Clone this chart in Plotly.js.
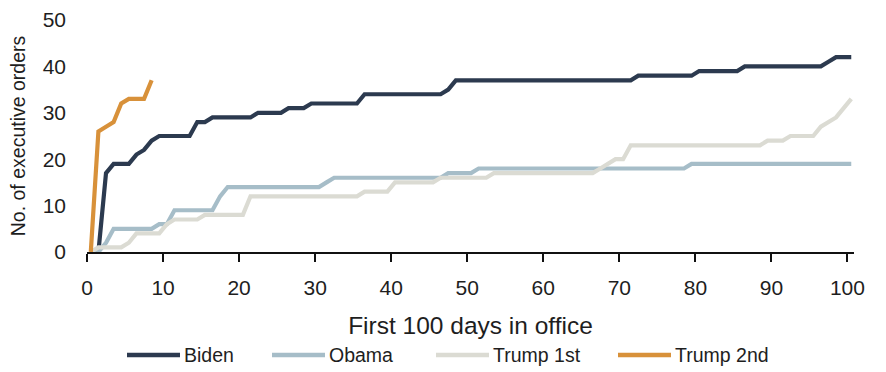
<!DOCTYPE html>
<html>
<head>
<meta charset="utf-8">
<script src="https://cdn.plot.ly/plotly-3.0.1.min.js"></script>
<style>
  html, body { margin: 0; padding: 0; background: #ffffff; }
  #chart { width: 886px; height: 372px; }
</style>
</head>
<body>
<div id="chart"></div>
<script>
// Cumulative executive orders signed, one value per day of the first 100 days.
const DAYS = Array.from({ length: 101 }, (_, i) => i);

const BIDEN = [
  0, 0, 17, 19, 19, 19, 21, 22, 24, 25,
  25, 25, 25, 25, 28, 28, 29, 29, 29, 29,
  29, 29, 30, 30, 30, 30, 31, 31, 31, 32,
  32, 32, 32, 32, 32, 32, 34, 34, 34, 34,
  34, 34, 34, 34, 34, 34, 34, 35, 37, 37,
  37, 37, 37, 37, 37, 37, 37, 37, 37, 37,
  37, 37, 37, 37, 37, 37, 37, 37, 37, 37,
  37, 37, 38, 38, 38, 38, 38, 38, 38, 38,
  39, 39, 39, 39, 39, 39, 40, 40, 40, 40,
  40, 40, 40, 40, 40, 40, 40, 41, 42, 42,
  42
];

const OBAMA = [
  0, 0, 2, 5, 5, 5, 5, 5, 5, 6,
  6, 9, 9, 9, 9, 9, 9, 12, 14, 14,
  14, 14, 14, 14, 14, 14, 14, 14, 14, 14,
  14, 15, 16, 16, 16, 16, 16, 16, 16, 16,
  16, 16, 16, 16, 16, 16, 16, 17, 17, 17,
  17, 18, 18, 18, 18, 18, 18, 18, 18, 18,
  18, 18, 18, 18, 18, 18, 18, 18, 18, 18,
  18, 18, 18, 18, 18, 18, 18, 18, 18, 19,
  19, 19, 19, 19, 19, 19, 19, 19, 19, 19,
  19, 19, 19, 19, 19, 19, 19, 19, 19, 19,
  19
];

const TRUMP_1ST = [
  0, 1, 1, 1, 1, 2, 4, 4, 4, 4,
  6, 7, 7, 7, 7, 8, 8, 8, 8, 8,
  8, 12, 12, 12, 12, 12, 12, 12, 12, 12,
  12, 12, 12, 12, 12, 12, 13, 13, 13, 13,
  15, 15, 15, 15, 15, 15, 16, 16, 16, 16,
  16, 16, 16, 17, 17, 17, 17, 17, 17, 17,
  17, 17, 17, 17, 17, 17, 17, 18, 19, 20,
  20, 23, 23, 23, 23, 23, 23, 23, 23, 23,
  23, 23, 23, 23, 23, 23, 23, 23, 23, 24,
  24, 24, 25, 25, 25, 25, 27, 28, 29, 31,
  33
];

const TRUMP_2ND = [0, 26, 27, 28, 32, 33, 33, 33, 37];

const SERIES_NAMES = ['Biden', 'Obama', 'Trump 1st', 'Trump 2nd'];
const SERIES_VALUES = [BIDEN, OBAMA, TRUMP_1ST, TRUMP_2ND];
const SERIES_COLORS = ['#2c3a4f', '#a6bdc8', '#dbdbd3', '#d8913a'];

const X_TICKS = [0, 10, 20, 30, 40, 50, 60, 70, 80, 90, 100];
const Y_TICKS = [0, 10, 20, 30, 40, 50];

const X_TITLE = 'First 100 days in office';
const Y_TITLE = 'No. of executive orders';

// ---- drawing ----
const FONT = '"Liberation Sans", Arial, sans-serif';
const TEXT_COLOR = '#1e1e1e';

const M = { l: 87, r: 32, t: 20, b: 120 };
const W = 886, H = 372;
const plotW = W - M.l - M.r, plotH = H - M.t - M.b;
const px2x = px => (px - M.l) / plotW;
const py2y = py => (H - M.b - py) / plotH;

// each day's tally sits in the middle of that day's slot on the axis
const traces = SERIES_VALUES.map((vals, k) => ({
  type: 'scatter',
  mode: 'lines',
  name: SERIES_NAMES[k],
  x: DAYS.slice(0, vals.length).map(d => d + 0.5),
  y: vals,
  line: { color: SERIES_COLORS[k], width: 4.2 },
  hoverinfo: 'skip',
  showlegend: false
}));

// hand-laid legend row under the axis title
const legendLineStart = [127, 272, 436, 618];
const legendLineLen = 53;
const legendY = py2y(355);
const shapes = [];
const annotations = [];
SERIES_NAMES.forEach((name, k) => {
  const x0 = legendLineStart[k];
  shapes.push({
    type: 'line', xref: 'paper', yref: 'paper',
    x0: px2x(x0), x1: px2x(x0 + legendLineLen), y0: legendY, y1: legendY,
    line: { color: SERIES_COLORS[k], width: 4.5 }
  });
  annotations.push({
    xref: 'paper', yref: 'paper',
    x: px2x(x0 + legendLineLen + 2), y: legendY,
    xanchor: 'left', yanchor: 'middle',
    text: name, showarrow: false,
    font: { family: FONT, size: 19.5, color: TEXT_COLOR }
  });
});

const layout = {
  width: W, height: H,
  margin: M,
  paper_bgcolor: '#ffffff',
  plot_bgcolor: '#ffffff',
  font: { family: FONT, size: 21, color: TEXT_COLOR },
  showlegend: false,
  xaxis: {
    range: [0, 100.86],
    tickvals: X_TICKS,
    ticks: 'outside', ticklen: 8, tickwidth: 2, tickcolor: '#111111',
    showline: true, linecolor: '#111111', linewidth: 2,
    showgrid: false, zeroline: false,
    ticklabelstandoff: 8,
    tickfont: { family: FONT, size: 21, color: TEXT_COLOR },
    title: { text: X_TITLE, font: { family: FONT, size: 24.5, color: TEXT_COLOR }, standoff: 19 },
    fixedrange: true
  },
  yaxis: {
    range: [0, 50],
    tickvals: Y_TICKS,
    ticks: '', showline: false,
    showgrid: false, zeroline: false,
    ticklabelstandoff: 20,
    tickfont: { family: FONT, size: 21, color: TEXT_COLOR },
    title: { text: Y_TITLE, font: { family: FONT, size: 19.5, color: TEXT_COLOR }, standoff: 11 },
    fixedrange: true
  },
  shapes: shapes,
  annotations: annotations
};

Plotly.newPlot('chart', traces, layout, { displayModeBar: false, staticPlot: true });
</script>
</body>
</html>
